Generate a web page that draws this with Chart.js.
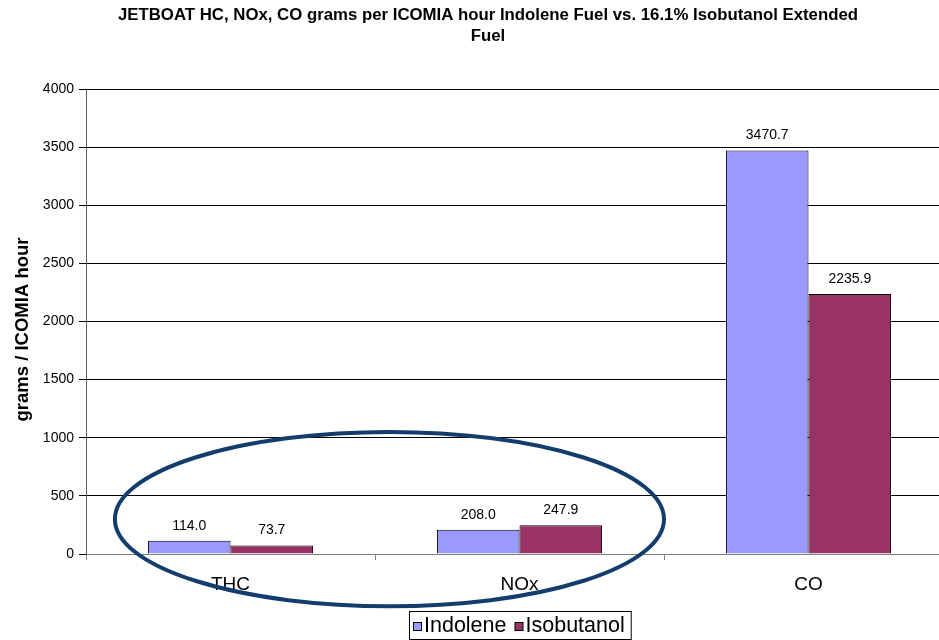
<!DOCTYPE html>
<html>
<head>
<meta charset="utf-8">
<script src="https://cdn.jsdelivr.net/npm/chart.js@4/dist/chart.umd.min.js"></script>
<style>
  html, body { margin: 0; padding: 0; background: #fff; overflow: hidden; }
  #wrap { position: absolute; left: 0; top: 0; width: 976px; height: 640px; }
</style>
</head>
<body>
<div id="wrap"><canvas id="c" width="976" height="640"></canvas></div>
<script>
// Emissions per ICOMIA hour, two fuels
const categories = ['THC', 'NOx', 'CO'];
const indolene = [114.0, 208.0, 3470.7];
const isobutanol = [73.7, 247.9, 2235.9];
const seriesNames = ['Indolene', 'Isobutanol'];
const seriesColors = ['#9999FF', '#993366'];
const yTicks = [0, 500, 1000, 1500, 2000, 2500, 3000, 3500, 4000];
const titleLines = [
  'JETBOAT HC, NOx, CO grams per ICOMIA hour Indolene Fuel vs. 16.1% Isobutanol Extended',
  'Fuel'
];
const yTitle = 'grams / ICOMIA hour';

const FONT = '"Liberation Sans", Arial, sans-serif';

// Value labels printed above each bar
const valueLabels = {
  id: 'valueLabels',
  afterDatasetsDraw(chart) {
    const ctx = chart.ctx;
    ctx.save();
    ctx.font = '14px ' + FONT;
    ctx.fillStyle = '#000';
    ctx.textAlign = 'center';
    ctx.textBaseline = 'bottom';
    chart.data.datasets.forEach((ds, di) => {
      const meta = chart.getDatasetMeta(di);
      meta.data.forEach((bar, i) => {
        ctx.fillText(ds.data[i].toFixed(1), bar.x, bar.y - 8);
      });
    });
    ctx.restore();
  }
};

// Vertical axis caption, rotated, a little below the plot's midline
const axisCaption = {
  id: 'axisCaption',
  afterDraw(chart) {
    const ys = chart.scales.y;
    const ctx = chart.ctx;
    ctx.save();
    ctx.translate(23, (ys.top + ys.bottom) / 2 + 8);
    ctx.rotate(-Math.PI / 2);
    ctx.font = 'bold 18.5px ' + FONT;
    ctx.fillStyle = '#000';
    ctx.textAlign = 'center';
    ctx.textBaseline = 'middle';
    ctx.fillText(yTitle, 0, 0);
    ctx.restore();
  }
};

// Boxed legend below the plot
const boxedLegend = {
  id: 'boxedLegend',
  afterDraw(chart) {
    const ctx = chart.ctx;
    const left = 409, top = 611, h = 28, sq = 8, gap = 3, itemGap = 8, padL = 4, padR = 6;
    ctx.save();
    ctx.font = '21.5px ' + FONT;
    ctx.textBaseline = 'middle';
    let x = left + padL;
    const cy = top + h / 2 + 1;
    chart.data.datasets.forEach((ds) => {
      ctx.fillStyle = ds.backgroundColor;
      ctx.fillRect(x + 0.5, cy - sq / 2 + 0.5, sq, sq);
      ctx.strokeStyle = '#000';
      ctx.lineWidth = 1;
      ctx.strokeRect(x + 0.5, cy - sq / 2 + 0.5, sq, sq);
      x += sq + gap;
      ctx.fillStyle = '#000';
      ctx.textAlign = 'left';
      ctx.fillText(ds.label, x, cy);
      x += ctx.measureText(ds.label).width + itemGap;
    });
    const right = x - itemGap + padR;
    ctx.strokeStyle = '#000';
    ctx.lineWidth = 1;
    ctx.strokeRect(left + 0.5, top + 0.5, right - left, h);
    ctx.restore();
  }
};

// Highlight ring around the THC and NOx groups
const highlightRing = {
  id: 'highlightRing',
  afterDraw(chart) {
    const xs = chart.scales.x, ys = chart.scales.y;
    const cx = xs.getPixelForValue(0.55);
    const cy = ys.getPixelForValue(300);
    const rx = 0.95 * (xs.getPixelForValue(1) - xs.getPixelForValue(0));
    const ry = ys.getPixelForValue(0) - ys.getPixelForValue(750);
    const ctx = chart.ctx;
    ctx.save();
    ctx.beginPath();
    ctx.ellipse(cx, cy, rx, ry, 0, 0, Math.PI * 2);
    ctx.lineWidth = 4;
    ctx.strokeStyle = '#123d6c';
    ctx.stroke();
    ctx.restore();
  }
};

new Chart(document.getElementById('c'), {
  type: 'bar',
  data: {
    labels: categories,
    datasets: [
      { label: seriesNames[0], data: indolene, backgroundColor: seriesColors[0] },
      { label: seriesNames[1], data: isobutanol, backgroundColor: seriesColors[1] }
    ].map(d => Object.assign(d, {
      borderColor: '#000',
      borderWidth: 1,
      barPercentage: 1,
      categoryPercentage: 2 / 3.5
    }))
  },
  options: {
    responsive: false,
    animation: false,
    devicePixelRatio: 1,
    layout: { padding: { left: 23, right: 23, top: 0, bottom: 0 } },
    plugins: {
      legend: { display: false },
      tooltip: { enabled: false },
      title: {
        display: true,
        text: titleLines,
        color: '#000',
        font: { family: FONT, size: 16.8, weight: 'bold', lineHeight: '21px' },
        padding: { top: 5, bottom: 42 }
      }
    },
    scales: {
      x: {
        offset: true,
        grid: { drawOnChartArea: false, offset: true, tickLength: 6, color: '#808080' },
        border: { color: '#808080', width: 1 },
        ticks: { color: '#000', font: { family: FONT, size: 19 }, padding: 13 },
        afterFit(s) { s.height = 86; }
      },
      y: {
        min: 0,
        max: 4000,
        afterBuildTicks(s) { s.ticks = yTicks.map(v => ({ value: v })); },
        grid: { color: '#000', lineWidth: 1, tickLength: 7 },
        border: { color: '#606060', width: 1 },
        ticks: {
          color: '#000',
          font: { family: FONT, size: 14 },
          padding: 5,
          callback: v => String(v)
        },
        title: { display: false },
        afterFit(s) { s.width = 63; }
      }
    }
  },
  plugins: [valueLabels, axisCaption, boxedLegend, highlightRing]
});
</script>
</body>
</html>
